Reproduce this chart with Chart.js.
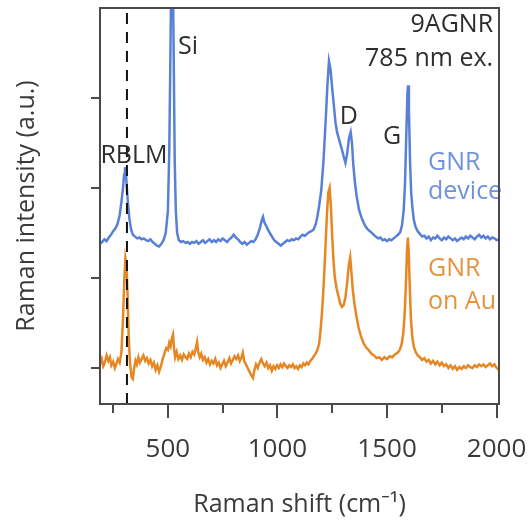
<!DOCTYPE html>
<html>
<head>
<meta charset="utf-8">
<script src="https://cdn.jsdelivr.net/npm/chart.js@4.4.1/dist/chart.umd.min.js"></script>
<style>
  html, body { margin: 0; padding: 0; background: #ffffff; }
  #wrap { width: 532px; height: 521px; }
</style>
</head>
<body>
<div id="wrap"><canvas id="c" width="532" height="521"></canvas></div>
<script>
// ---------- data (Raman shift in cm^-1, intensity in arbitrary offset units) ----------
const deviceX = [190,200,210,220,230,240,250,260,270,280,288,295,300,304,308,312,317,324,332,340,350,360,370,380,390,400,410,420,430,440,450,460,470,480,490,500,506,511,515,519,523,527,531,536,542,550,560,570,580,590,600,610,620,630,640,650,660,670,680,690,700,710,720,730,740,750,760,770,780,790,800,810,820,830,840,850,860,870,880,890,900,910,920,928,934,940,948,956,965,975,985,995,1005,1015,1025,1035,1045,1055,1065,1075,1085,1095,1105,1115,1125,1135,1145,1155,1165,1175,1182,1190,1200,1210,1220,1228,1235,1242,1250,1258,1265,1272,1280,1288,1295,1302,1310,1318,1326,1334,1340,1346,1354,1362,1372,1385,1400,1412,1422,1435,1448,1460,1470,1480,1490,1500,1510,1520,1530,1540,1550,1560,1568,1576,1582,1588,1593,1596,1600,1605,1610,1616,1622,1630,1640,1650,1660,1670,1680,1690,1700,1710,1720,1730,1740,1750,1760,1770,1780,1790,1800,1810,1820,1830,1840,1850,1860,1870,1880,1890,1900,1910,1920,1930,1940,1950,1960,1970,1980,1990,2000,2011];
const deviceY = [1.38,1.40,1.43,1.41,1.45,1.48,1.52,1.55,1.60,1.70,1.85,2.00,2.15,2.23,2.18,2.02,1.85,1.66,1.54,1.48,1.46,1.44,1.45,1.43,1.44,1.42,1.41,1.43,1.40,1.38,1.36,1.35,1.38,1.42,1.50,1.75,2.40,3.40,4.30,4.60,4.30,3.30,2.30,1.75,1.50,1.42,1.40,1.41,1.39,1.40,1.38,1.40,1.39,1.41,1.38,1.40,1.42,1.39,1.41,1.43,1.40,1.42,1.40,1.43,1.41,1.44,1.42,1.40,1.43,1.45,1.48,1.45,1.43,1.40,1.38,1.40,1.37,1.39,1.41,1.40,1.43,1.48,1.56,1.64,1.68,1.62,1.58,1.54,1.50,1.46,1.42,1.40,1.38,1.36,1.38,1.40,1.42,1.41,1.43,1.42,1.44,1.43,1.46,1.48,1.47,1.49,1.51,1.52,1.54,1.60,1.68,1.80,1.98,2.30,2.75,3.15,3.41,3.32,3.10,2.90,2.72,2.62,2.55,2.48,2.42,2.35,2.28,2.38,2.55,2.62,2.50,2.26,2.05,1.90,1.76,1.66,1.58,1.54,1.52,1.49,1.46,1.44,1.45,1.42,1.43,1.41,1.43,1.42,1.44,1.46,1.48,1.51,1.58,1.75,2.05,2.60,3.05,3.14,2.85,2.30,1.95,1.78,1.65,1.57,1.52,1.49,1.46,1.47,1.44,1.46,1.42,1.45,1.44,1.47,1.44,1.42,1.45,1.43,1.46,1.44,1.42,1.44,1.41,1.43,1.45,1.43,1.46,1.44,1.47,1.45,1.43,1.46,1.48,1.45,1.47,1.44,1.46,1.43,1.45,1.44,1.42,1.43];

const auX = [190,198,205,212,220,228,235,242,250,258,265,272,280,288,295,301,306,311,316,321,327,334,340,346,352,358,365,372,380,388,396,404,412,420,428,436,444,452,460,468,476,484,492,500,506,512,518,523,528,533,540,548,556,564,572,580,588,596,604,612,620,627,633,638,645,652,660,668,676,684,692,700,708,716,724,732,740,748,756,764,772,780,788,796,804,812,820,828,836,842,848,856,864,872,880,888,895,902,910,918,926,934,942,950,958,966,974,982,990,998,1006,1014,1022,1030,1038,1046,1054,1062,1070,1078,1086,1094,1102,1110,1118,1126,1134,1142,1150,1158,1166,1174,1182,1190,1196,1202,1208,1214,1220,1226,1232,1238,1244,1250,1256,1262,1270,1278,1286,1294,1302,1310,1318,1326,1332,1338,1344,1352,1360,1370,1380,1392,1404,1416,1428,1440,1452,1464,1476,1488,1500,1512,1524,1536,1548,1558,1566,1574,1580,1586,1591,1595,1599,1604,1609,1615,1622,1630,1640,1650,1660,1670,1680,1690,1700,1710,1720,1730,1740,1750,1760,1770,1780,1790,1800,1810,1820,1830,1840,1850,1860,1870,1880,1890,1900,1910,1920,1930,1940,1950,1960,1970,1980,1990,2000,2011];
const auY = [0.04,0.10,0.02,0.06,0.14,0.08,0.12,0.03,0.07,0.00,0.05,0.10,0.06,0.18,0.55,0.98,1.22,1.15,0.80,0.35,0.05,-0.10,-0.12,0.00,0.08,0.04,0.12,0.06,0.10,0.14,0.08,0.11,0.05,0.09,0.02,0.06,-0.02,0.03,-0.04,0.02,0.10,0.16,0.22,0.20,0.28,0.24,0.33,0.37,0.22,0.12,0.18,0.10,0.14,0.09,0.15,0.12,0.10,0.16,0.12,0.18,0.15,0.22,0.29,0.18,0.12,0.16,0.09,0.12,0.06,0.10,0.04,0.08,0.05,0.10,0.03,0.06,0.00,0.04,0.08,0.02,0.06,0.11,0.05,0.09,0.13,0.10,0.14,0.08,0.12,0.17,0.08,0.04,0.00,-0.04,-0.08,-0.11,-0.02,0.04,0.00,0.06,0.10,0.05,0.02,0.06,0.00,0.03,-0.03,0.02,-0.01,0.03,0.00,0.04,0.01,0.05,0.02,0.00,0.03,0.01,0.04,0.00,0.02,-0.01,0.03,0.01,0.05,0.03,0.06,0.04,0.08,0.10,0.13,0.16,0.20,0.27,0.40,0.58,0.80,1.08,1.40,1.72,1.95,2.00,1.78,1.45,1.18,1.00,0.88,0.80,0.72,0.68,0.70,0.78,0.95,1.15,1.23,1.05,0.86,0.70,0.58,0.45,0.36,0.28,0.23,0.20,0.16,0.14,0.11,0.12,0.09,0.12,0.10,0.13,0.12,0.15,0.17,0.20,0.26,0.38,0.58,0.92,1.30,1.45,1.28,0.88,0.55,0.35,0.24,0.18,0.14,0.12,0.09,0.11,0.07,0.09,0.05,0.08,0.04,0.07,0.03,0.06,0.02,0.04,0.00,0.03,-0.01,0.02,-0.02,0.01,-0.01,0.02,0.00,0.03,0.01,0.00,0.03,0.01,0.04,0.02,0.04,0.01,0.03,0.05,0.02,0.04,0.00,-0.02];

const rblmShift = 313;                 // dashed marker position (cm^-1)
const xTickValues = [250,500,750,1000,1250,1500,1750,2000];
const xLabelStep = 500;
const yTickValues = [0,1,2,3];
const xRange = [190, 2011];
const yRange = [-0.4, 4.0];

// annotation texts anchored in data units
const notes = [
  { text: 'Si',          x: 546,  y: 3.57, align: 'left',   kind: 'dark' },
  { text: 'RBLM',        x: 345,  y: 2.36, align: 'center', kind: 'dark' },
  { text: 'D',           x: 1326, y: 2.79, align: 'center', kind: 'dark' },
  { text: 'G',           x: 1523, y: 2.57, align: 'center', kind: 'dark' },
  { text: '9AGNR',       x: 1984, y: 3.81, align: 'right',  kind: 'dark' },
  { text: '785 nm ex.',  x: 1984, y: 3.43, align: 'right',  kind: 'dark' },
  { text: 'GNR',         x: 1687, y: 2.28, align: 'left',   kind: 'blue' },
  { text: 'device',      x: 1687, y: 1.96, align: 'left',   kind: 'blue' },
  { text: 'GNR',         x: 1687, y: 1.10, align: 'left',   kind: 'orange' },
  { text: 'on Au',       x: 1687, y: 0.74, align: 'left',   kind: 'orange' }
];

// ---------- styles ----------
const FONT = '"Open Sans", "Noto Sans", sans-serif';
const AXIS_COLOR = '#4a4a4a';
const TEXT_COLOR = '#3a3a3a';
const BLUE = 'rgb(88,128,214)';
const ORANGE = 'rgb(230,135,35)';
const noteColors = { dark: '#2e2e2e', blue: 'rgb(112,146,222)', orange: 'rgb(232,146,62)' };

const toPts = (xs, ys) => xs.map((x, i) => ({ x: x, y: ys[i] }));

const framePlugin = {
  id: 'frameTicks',
  afterDraw(chart) {
    const { ctx, chartArea: a, scales: { x, y } } = chart;
    ctx.save();
    ctx.strokeStyle = AXIS_COLOR;
    ctx.lineWidth = 2;
    ctx.strokeRect(a.left, a.top, a.right - a.left, a.bottom - a.top);
    ctx.beginPath();
    x.ticks.forEach(t => {
      const px = Math.round(x.getPixelForValue(t.value));
      const len = (t.value % xLabelStep === 0) ? 14 : 9;
      ctx.moveTo(px, a.bottom);
      ctx.lineTo(px, a.bottom + len);
    });
    y.ticks.forEach(t => {
      const py = Math.round(y.getPixelForValue(t.value));
      ctx.moveTo(a.left - 9, py);
      ctx.lineTo(a.left, py);
    });
    ctx.stroke();
    ctx.restore();
  },
  afterDatasetsDraw(chart) {
    const { ctx, scales: { x, y } } = chart;
    ctx.save();
    ctx.font = '25px ' + FONT;
    ctx.textBaseline = 'middle';
    notes.forEach(n => {
      ctx.fillStyle = noteColors[n.kind];
      ctx.textAlign = n.align;
      ctx.fillText(n.text, x.getPixelForValue(n.x), y.getPixelForValue(n.y));
    });
    ctx.restore();
  }
};

new Chart(document.getElementById('c'), {
  type: 'scatter',
  data: {
    datasets: [
      {
        label: 'RBLM marker',
        data: [{ x: rblmShift, y: yRange[0] }, { x: rblmShift, y: yRange[1] }],
        showLine: true, borderColor: '#111111', borderWidth: 2, borderDash: [11, 8],
        pointRadius: 0, fill: false
      },
      {
        label: 'GNR device',
        data: toPts(deviceX, deviceY),
        showLine: true, borderColor: BLUE, borderWidth: 2.5, pointRadius: 0,
        tension: 0, fill: false
      },
      {
        label: 'GNR on Au',
        data: toPts(auX, auY),
        showLine: true, borderColor: ORANGE, borderWidth: 2.5, pointRadius: 0,
        tension: 0, fill: false
      }
    ]
  },
  options: {
    responsive: false,
    animation: false,
    devicePixelRatio: 1,
    layout: { padding: { top: 8, right: 33, left: 0, bottom: 0 } },
    plugins: { legend: { display: false }, tooltip: { enabled: false } },
    scales: {
      x: {
        type: 'linear', position: 'bottom', min: xRange[0], max: xRange[1],
        grid: { display: false, drawTicks: false },
        border: { display: true, color: AXIS_COLOR, width: 2 },
        afterBuildTicks: s => { s.ticks = xTickValues.map(v => ({ value: v })); },
        afterFit: s => { s.height = 117; s.paddingLeft = 0; s.paddingRight = 0; },
        ticks: {
          autoSkip: false, maxRotation: 0, padding: 30, color: TEXT_COLOR,
          font: { family: FONT, size: 26 },
          callback: v => (v % xLabelStep === 0 ? String(v) : '')
        },
        title: {
          display: true, text: 'Raman shift (cm\u207B\u00B9)', color: TEXT_COLOR,
          font: { family: FONT, size: 25 }, padding: { top: 0, bottom: 1 }
        }
      },
      y: {
        type: 'linear', min: yRange[0], max: yRange[1],
        grid: { display: false, drawTicks: false },
        border: { display: true, color: AXIS_COLOR, width: 2 },
        afterBuildTicks: s => { s.ticks = yTickValues.map(v => ({ value: v })); },
        afterFit: s => { s.width = 100; s.paddingTop = 0; s.paddingBottom = 0; },
        ticks: { display: false },
        title: {
          display: true, text: 'Raman intensity (a.u.)', color: TEXT_COLOR,
          font: { family: FONT, size: 25 }, padding: { top: 12, bottom: 0 }
        }
      }
    }
  },
  plugins: [framePlugin]
});
</script>
</body>
</html>
